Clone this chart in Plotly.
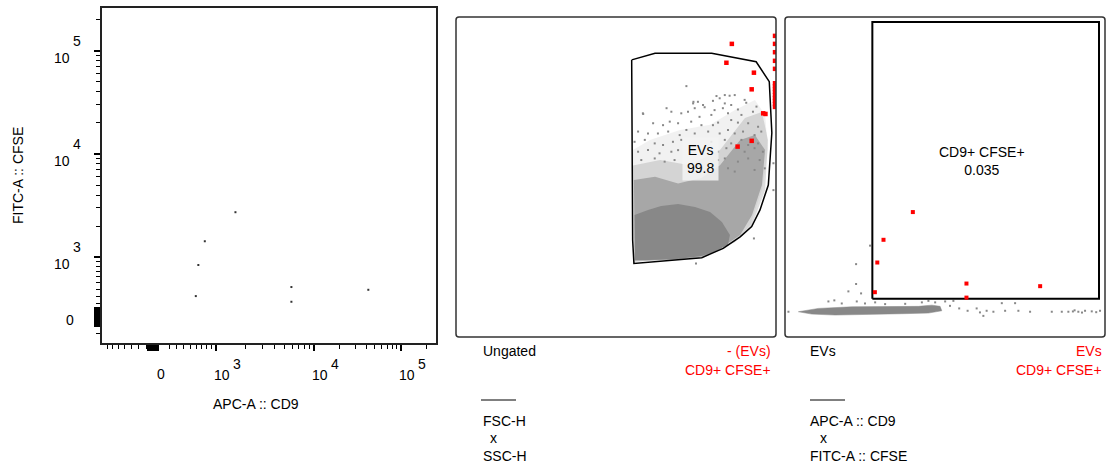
import numpy as np
import plotly.graph_objects as go

W, H = 1109, 466
FONT = "Liberation Sans, Arial, Helvetica, sans-serif"

# ---------------- biexponential display transform ----------------
BIEX_C = 654.0


def biex(v, k, dec1, dec2):
    v = np.asarray(v, dtype=float)
    lin = k * np.arcsinh(v / BIEX_C)
    top = k * np.arcsinh(1000.0 / BIEX_C)
    lv = np.log10(np.maximum(v, 1000.0))
    logpart = top + dec1 * np.clip(lv - 3, 0, 1) + dec2 * np.clip(lv - 4, 0, None)
    return np.where(v > 1000.0, logpart, lin)


def tx(v):
    return biex(v, 50.85, 98.0, 87.0)


def ty(v):
    return biex(v, 50.64, 103.3, 103.3)


# ---------------- data ----------------
# axis limits (raw units)
apc_min, apc_max = -798, 2.55e5
fitc_min, fitc_max = -328, 2.59e5

# CD9+ CFSE+ events (APC-A :: CD9, FITC-A :: CFSE)
pos_apc = [1587, 763, 641, 596, 5916, 5916, 42460]
pos_fitc = [2730, 1429, 828, 300, 434, 221, 392]

# CD9+ CFSE+ gate (rectangle corners)
gate_apc = [551, 2.16e5]
gate_fitc = [205, 2.3e5]

# EVs population in APC x FITC: dense band outline
band_apc = [-541, -229, 228, 797, 1820, 2528, 3098, 3230, 2325, 1211, 483, 0, -325]
band_fitc = [26, 71, 93, 99, 99, 116, 99, 39, 8, -1, -15, -19, -6]

# EVs population in APC x FITC: sparse events
ev_apc = [291, 181, 366, -90, -10, 90, 301, 428, 601, 797, 1315, 1980, 2325, 2744,
          3507, 4293, 3948, 4951, 6084, 7598, 8240, 9707, 11660, 14710, 16120, 21240,
          23260, 32150, 58550, 77200, 92600, 122000, 146900, 176800, 222300, -727,
          8954, 511, 291, 110000, 135000, 200000, 105000]
ev_fitc = [427, 312, 282, 167, 182, 139, 167, 139, 154, 130, 134, 154, 175, 154,
           167, 175, 106, 71, 39, 71, 17, 39, 26, 143, 39, 143,
           39, 26, 26, 26, 26, 26, 39, 31, 39, 26,
           -30, 1247, 793, 45, 15, 20, 30]

# Ungated FSC-H x SSC-H (channel units 0-1000)
evgate_fsc = [549, 622, 799, 938, 979, 987, 976, 950, 924, 888, 835, 768, 556, 552]
evgate_ssc = [866, 887, 887, 860, 798, 638, 475, 397, 345, 313, 277, 248, 230, 303]

core_fsc = [558, 600, 641, 694, 747, 794, 831, 856, 850, 806, 766, 694, 600, 559]
core_ssc = [381, 397, 409, 416, 406, 391, 359, 319, 288, 266, 253, 244, 241, 241]

mid_fsc = [556, 622, 694, 766, 825, 888, 934, 966, 956, 925, 888, 819, 766, 694, 559]
mid_ssc = [491, 501, 480, 497, 537, 616, 631, 584, 475, 381, 319, 272, 250, 241, 238]

lmid_fsc = [553, 638, 731, 825, 903, 956, 975, 966, 925, 872, 778, 556]
lmid_ssc = [536, 553, 537, 584, 684, 703, 616, 459, 350, 297, 253, 234]

light_fsc = [553, 606, 700, 794, 872, 934, 966, 975, 956, 919, 872, 794, 556]
light_ssc = [584, 616, 647, 663, 709, 741, 694, 584, 459, 350, 297, 256, 234]

sp_fsc = [720, 814, 840, 855, 871, 824, 803, 756, 741, 772, 840, 860, 902, 907, 777,
          746, 725, 808, 834, 881, 584, 673, 704, 761, 798, 850, 892, 928, 939, 616,
          647, 668, 694, 735, 767, 803, 819, 860, 881, 913, 944, 569, 600, 631, 663,
          699, 720, 746, 788, 824, 850, 871, 897, 933, 954, 558, 590, 621, 647, 678,
          704, 798, 840, 860, 892, 913, 944, 569, 600, 636, 673, 694, 819, 845, 902,
          933, 959, 579, 621, 652, 683, 819, 840, 881, 913, 949, 965, 933, 850, 871,
          931, 750, 992, 992, 658, 585, 742]
sp_ssc = [784, 753, 756, 754, 756, 746, 738, 735, 730, 725, 730, 725, 741, 732, 718,
          715, 704, 709, 715, 711, 699, 704, 699, 688, 694, 699, 694, 704, 720, 668,
          662, 673, 668, 673, 662, 662, 670, 678, 670, 668, 657, 642, 636, 636, 642,
          631, 647, 636, 642, 636, 647, 636, 642, 631, 642, 610, 616, 605, 600, 610,
          616, 610, 616, 605, 616, 600, 605, 579, 584, 574, 579, 584, 579, 590, 579,
          590, 579, 553, 558, 548, 553, 553, 558, 548, 558, 553, 527, 522, 527, 517,
          308, 230, 543, 459, 715, 697, 735]

red2_fsc = [862, 845, 931, 924, 960, 967, 924, 880,
            997, 997, 997, 997, 997, 997, 997, 997, 997, 997, 997, 997, 997, 997]
red2_ssc = [916, 857, 826, 774, 699, 697, 613, 595,
            941, 916, 890, 863, 838, 793, 784, 775, 766, 756, 747, 738, 728, 719]

x_major = [1e3, 1e4, 1e5]
x_cluster = list(range(-75, 46, 15))
y_cluster = list(range(-90, 136, 15))
x_minor = [-700, -600, -500, -400, -300, -200, -100, 200, 300, 400, 500, 600, 700, 800, 900,
           2e3, 3e3, 4e3, 5e3, 6e3, 7e3, 8e3, 9e3, 2e4, 3e4, 4e4, 5e4, 6e4, 7e4, 8e4, 9e4, 2e5]
y_minor = [-200, 200, 300, 400, 500, 600, 700, 800, 900,
           2e3, 3e3, 4e3, 5e3, 6e3, 7e3, 8e3, 9e3, 2e4, 3e4, 4e4, 5e4, 6e4, 7e4, 8e4, 9e4, 2e5]
exp_labels = ["3", "4", "5"]

# ---------------- figure ----------------
fig = go.Figure()
GRAY = "rgb(136,136,136)"


def closed(a):
    a = list(a)
    return a + a[:1]


# panel 1
fig.add_trace(go.Scatter(x=tx(pos_apc), y=ty(pos_fitc), mode="markers", xaxis="x", yaxis="y",
                         marker=dict(size=2, color="#333", symbol="square"), hoverinfo="skip"))

# panel 2 cloud
for fx, fy, col in [(light_fsc, light_ssc, "rgba(136,136,136,0.12)"),
                    (lmid_fsc, lmid_ssc, "rgba(136,136,136,0.28)"),
                    (mid_fsc, mid_ssc, "rgba(136,136,136,0.6)"),
                    (core_fsc, core_ssc, "rgba(136,136,136,1)")]:
    fig.add_trace(go.Scatter(x=closed(fx), y=closed(fy), mode="lines", fill="toself",
                             fillcolor=col, line=dict(width=0), xaxis="x2", yaxis="y2",
                             hoverinfo="skip"))
fig.add_trace(go.Scatter(x=sp_fsc, y=sp_ssc, mode="markers", xaxis="x2", yaxis="y2",
                         marker=dict(size=2, color=GRAY, symbol="square"), hoverinfo="skip"))
fig.add_trace(go.Scatter(x=closed(evgate_fsc), y=closed(evgate_ssc), mode="lines",
                         line=dict(color="black", width=1.5), xaxis="x2", yaxis="y2",
                         hoverinfo="skip"))
fig.add_trace(go.Scatter(x=red2_fsc, y=red2_ssc, mode="markers", xaxis="x2", yaxis="y2",
                         marker=dict(size=4.5, color="red", symbol="square"), hoverinfo="skip"))

# panel 3
fig.add_trace(go.Scatter(x=closed(tx(band_apc)), y=closed(ty(band_fitc)), mode="lines",
                         fill="toself", fillcolor=GRAY, line=dict(width=0.5, color=GRAY),
                         xaxis="x3", yaxis="y3", hoverinfo="skip"))
fig.add_trace(go.Scatter(x=tx(ev_apc), y=ty(ev_fitc), mode="markers", xaxis="x3", yaxis="y3",
                         marker=dict(size=2, color=GRAY, symbol="square"), hoverinfo="skip"))
gx = tx(gate_apc)
gy = ty(gate_fitc)
fig.add_trace(go.Scatter(x=[gx[0], gx[1], gx[1], gx[0], gx[0]],
                         y=[gy[0], gy[0], gy[1], gy[1], gy[0]], mode="lines",
                         line=dict(color="black", width=2), xaxis="x3", yaxis="y3",
                         hoverinfo="skip"))
fig.add_trace(go.Scatter(x=tx(pos_apc), y=ty(pos_fitc), mode="markers", xaxis="x3", yaxis="y3",
                         marker=dict(size=4, color="red", symbol="square"), hoverinfo="skip"))

# ---------------- axes ----------------
xr = [float(tx(apc_min)), float(tx(apc_max))]
yr = [float(ty(fitc_min)), float(ty(fitc_max))]

p1x = [102 / W, 436 / W]
p1y = [1 - 343 / H, 1 - 8 / H]
p2x = [456 / W, 776 / W]
p3x = [785 / W, 1105 / W]
p23y = [1 - 337 / H, 1 - 17 / H]

fig.update_layout(
    width=W, height=H, margin=dict(l=0, r=0, t=0, b=0), autosize=False,
    paper_bgcolor="white", plot_bgcolor="white", showlegend=False,
    font=dict(family=FONT, size=14, color="black"),
    xaxis=dict(domain=p1x, range=xr, anchor="y", showline=True, linecolor="#222", linewidth=1.5,
               mirror=True, ticks="outside", tickmode="array",
               tickvals=list(tx(x_cluster + x_major)), ticklen=6, tickwidth=2, tickcolor="black",
               showticklabels=False, showgrid=False, zeroline=False,
               minor=dict(tickmode="array", tickvals=list(tx(x_minor)), ticks="outside",
                          ticklen=4, tickwidth=1, tickcolor="black", showgrid=False)),
    yaxis=dict(domain=p1y, range=yr, anchor="x", showline=True, linecolor="#222", linewidth=1.5,
               mirror=True, ticks="outside", tickmode="array",
               tickvals=list(ty(y_cluster + x_major)), ticklen=6, tickwidth=2, tickcolor="black",
               showticklabels=False, showgrid=False, zeroline=False,
               minor=dict(tickmode="array", tickvals=list(ty(y_minor)), ticks="outside",
                          ticklen=4, tickwidth=1, tickcolor="black", showgrid=False)),
    xaxis2=dict(domain=p2x, range=[0, 1000], anchor="y2", visible=False),
    yaxis2=dict(domain=p23y, range=[0, 1000], anchor="x2", visible=False),
    xaxis3=dict(domain=p3x, range=xr, anchor="y3", visible=False),
    yaxis3=dict(domain=p23y, range=yr, anchor="x3", visible=False),
)


# rounded frames for panels 2 and 3
def rrect(xd, yd, r=3):
    rx, ry = r / W, r / H
    x0, x1 = xd
    y0, y1 = yd
    return (f"M {x0+rx},{y1} L {x1-rx},{y1} Q {x1},{y1} {x1},{y1-ry} "
            f"L {x1},{y0+ry} Q {x1},{y0} {x1-rx},{y0} L {x0+rx},{y0} "
            f"Q {x0},{y0} {x0},{y0+ry} L {x0},{y1-ry} Q {x0},{y1} {x0+rx},{y1} Z")


shapes = []
for xd in (p2x, p3x):
    shapes.append(dict(type="path", path=rrect(xd, p23y), xref="paper", yref="paper",
                       line=dict(color="#333", width=1.5), layer="above"))
for x0, x1 in [(481, 516), (810, 845)]:
    shapes.append(dict(type="line", x0=x0 / W, x1=x1 / W, y0=1 - 400 / H, y1=1 - 400 / H,
                       xref="paper", yref="paper", line=dict(color="black", width=1)))
fig.update_layout(shapes=shapes)

ann = []


def A(**kw):
    d = dict(showarrow=False, font=dict(family=FONT, size=14, color="black"))
    d.update(kw)
    ann.append(d)


# x tick labels (panel 1)
A(text="0", x=float(tx(0)), xref="x", y=1 - 374 / H, yref="paper", xanchor="center",
  yanchor="middle", xshift=7)
for v, e in zip(x_major, exp_labels):
    A(text="10", x=float(tx(v)), xref="x", y=1 - 375 / H, yref="paper", xanchor="left",
      yanchor="middle", xshift=-4)
    A(text=e, x=float(tx(v)), xref="x", y=1 - 364 / H, yref="paper", xanchor="left",
      yanchor="middle", xshift=15)
# y tick labels (panel 1)
A(text="0", x=70 / W, xref="paper", y=float(ty(0)), yref="y", xanchor="center",
  yanchor="middle", yshift=-1)
for v, e in zip(x_major, exp_labels):
    A(text="10", x=72 / W, xref="paper", y=float(ty(v)), yref="y", xanchor="right",
      yanchor="middle", yshift=-7)
    A(text=e, x=71 / W, xref="paper", y=float(ty(v)), yref="y", xanchor="left",
      yanchor="middle", yshift=10)
# axis titles
A(text="APC-A :: CD9", x=256 / W, y=1 - 404 / H, xref="paper", yref="paper",
  xanchor="center", yanchor="middle")
A(text="FITC-A :: CFSE", x=18 / W, y=1 - 176 / H, xref="paper", yref="paper",
  xanchor="center", yanchor="middle", textangle=-90)

# gate labels
A(text="EVs<br>99.8", x=765, y=556, xref="x2", yref="y2", xanchor="center", yanchor="middle",
  bgcolor="rgba(243,243,243,0.88)", borderpad=4)
A(text="CD9+ CFSE+<br>0.035", x=float(tx(8670)), y=float(ty(8985)), xref="x3", yref="y3",
  xanchor="center", yanchor="middle")

# panel captions
RED = dict(family=FONT, size=14, color="red")
for txt, px, py, anc, f in [
    ("Ungated", 481, 351, "left", None),
    ("- (EVs)", 773, 351, "right", RED),
    ("CD9+ CFSE+", 773, 370, "right", RED),
    ("FSC-H", 481, 421, "left", None),
    ("x", 488, 438, "left", None),
    ("SSC-H", 481, 456, "left", None),
    ("EVs", 808, 351, "left", None),
    ("EVs", 1104, 351, "right", RED),
    ("CD9+ CFSE+", 1104, 370, "right", RED),
    ("APC-A :: CD9", 808, 421, "left", None),
    ("x", 818, 438, "left", None),
    ("FITC-A :: CFSE", 808, 456, "left", None),
]:
    kw = dict(text=txt, x=px / W, y=1 - py / H, xref="paper", yref="paper", xanchor=anc,
              yanchor="middle")
    if f:
        kw["font"] = f
    A(**kw)

fig.update_layout(annotations=ann)
fig.write_html("out.html", config={"displayModeBar": False},
               post_script="document.body.style.margin='0';document.body.style.overflow='hidden';")
